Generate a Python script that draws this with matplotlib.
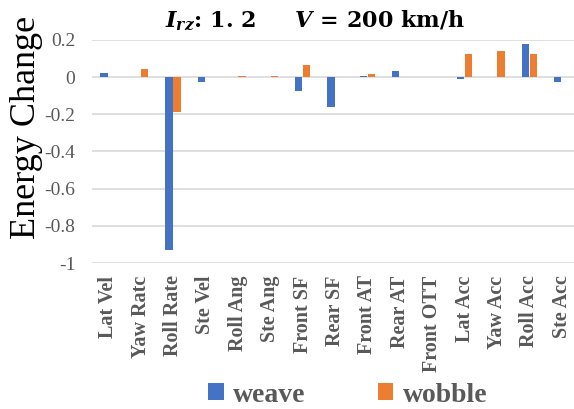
import numpy as np
import matplotlib.pyplot as plt

plt.rcParams['mathtext.fontset'] = 'custom'
plt.rcParams['mathtext.rm'] = 'DejaVu Serif:bold'
plt.rcParams['mathtext.it'] = 'DejaVu Serif:bold:italic'
plt.rcParams['mathtext.bf'] = 'DejaVu Serif:bold'

categories = ['Lat Vel', 'Yaw Ratc', 'Roll Rate', 'Ste Vel', 'Roll Ang', 'Ste Ang',
              'Front SF', 'Rear SF', 'Front AT', 'Rear AT', 'Front OTT', 'Lat Acc',
              'Yaw Acc', 'Roll Acc', 'Ste Acc']
weave = [0.02, 0.0, -0.93, -0.025, 0.0, 0.0, -0.072, -0.162, 0.005, 0.034, 0.0,
         -0.012, 0.0, 0.18, -0.028]
wobble = [0.0, 0.045, -0.19, 0.0, 0.005, 0.005, 0.064, 0.0, 0.016, 0.0, 0.0,
          0.125, 0.14, 0.125, 0.0]
yticks = [0.2, 0, -0.2, -0.4, -0.6, -0.8, -1]

blue = '#4472C4'
orange = '#ED7D31'
grey = '#595959'

fig = plt.figure(figsize=(5.74, 4.09), dpi=100)
ax = fig.add_axes([92 / 574, 1 - 263 / 409, 486 / 574, 223 / 409])

x = np.arange(len(categories))
w = 0.23
ax.bar(x - 0.125, weave, w, color=blue, label='weave', zorder=3)
ax.bar(x + 0.125, wobble, w, color=orange, label='wobble', zorder=3)

ax.set_xlim(-0.5, len(categories) - 0.5)
ax.set_ylim(-1, 0.2)
ax.set_yticks(yticks)
ax.set_yticklabels([f'{v:g}' for v in yticks], family='Liberation Serif',
                   fontsize=14, color=grey)
ax.set_xticks(x)
ax.set_xticklabels(categories, rotation=90, family='Liberation Serif',
                   fontweight='bold', fontsize=14.5, color=grey)
ax.tick_params(axis='both', length=0)
ax.tick_params(axis='y', pad=12)
ax.tick_params(axis='x', pad=9)
ax.grid(axis='y', color='#D9D9D9', linewidth=1.2, zorder=0)
for s in ax.spines.values():
    s.set_visible(False)

fig.text(27 / 574, 1 - 127 / 409, 'Energy Change', rotation=90, ha='center',
         va='center', family='Liberation Serif', fontsize=26)
fig.text(315 / 574, 1 - 20 / 409, r'$I_{rz}$: 1. 2     $V$ = 200 km/h',
         ha='center', va='center', family='DejaVu Serif',
         fontweight='bold', fontsize=16)

leg = fig.legend(loc='center', bbox_to_anchor=(348 / 574, 1 - 395 / 409), ncol=2,
                 frameon=False, borderpad=0.1,
                 prop={'family': 'Liberation Serif', 'weight': 'bold', 'size': 20},
                 handlelength=0.55, handleheight=0.55, handletextpad=0.35,
                 columnspacing=2.6)
for t in leg.get_texts():
    t.set_color(grey)

fig.savefig('out.png', dpi=100)
